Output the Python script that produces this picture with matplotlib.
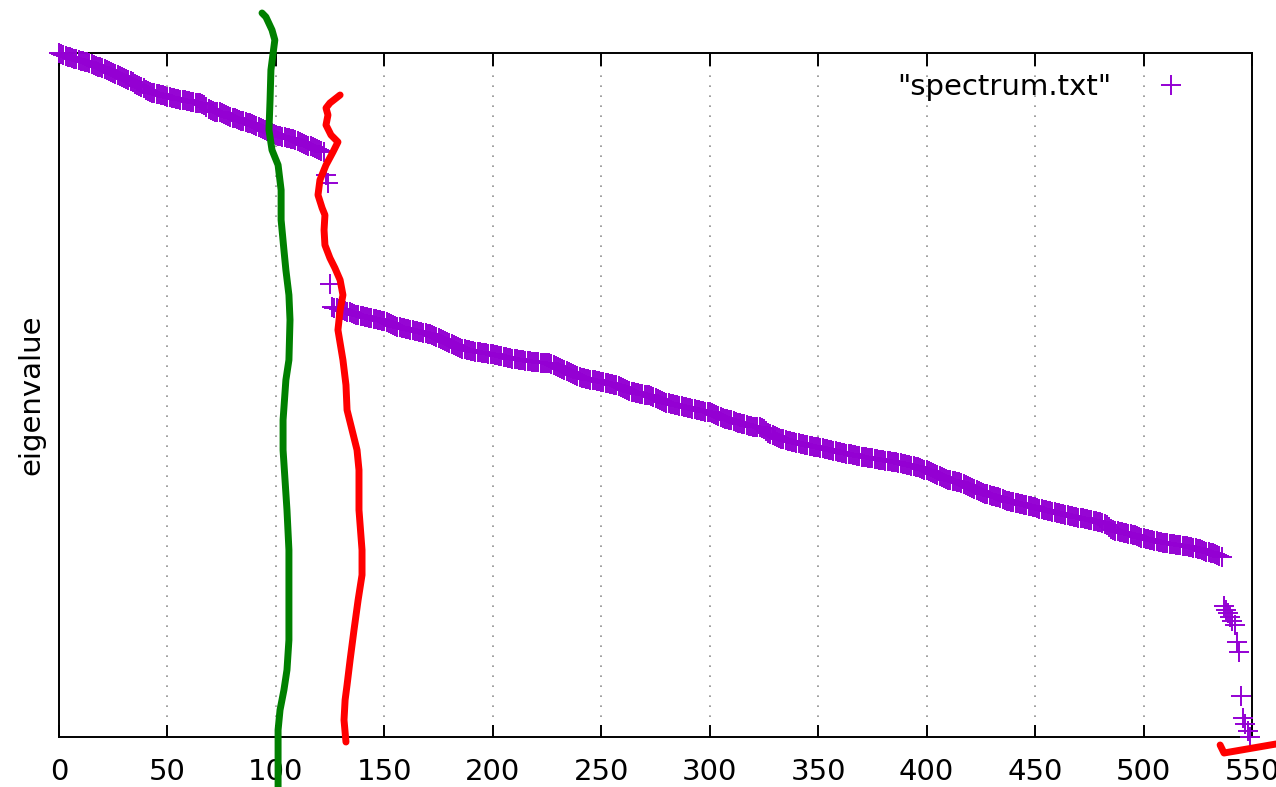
import matplotlib.pyplot as plt
import numpy as np

# eigenvalues (arbitrary units, sorted descending)
top_band = [
    684, 683, 682, 681, 680, 680, 679, 678, 678, 677,
    676, 676, 675, 675, 674, 673, 672, 671, 670, 670,
    669, 668, 667, 666, 665, 664, 663, 662, 661, 660,
    659, 658, 657, 656, 655, 653, 652, 651, 650, 649,
    647, 646, 645, 644, 644, 643, 643, 642, 642, 641,
    640, 640, 639, 639, 638, 638, 637, 637, 637, 636,
    636, 635, 635, 634, 634, 634, 633, 632, 630, 628,
    627, 626, 625, 625, 625, 624, 623, 622, 621, 620,
    619, 619, 618, 617, 616, 616, 615, 614, 614, 613,
    612, 611, 610, 609, 608, 607, 606, 605, 604, 603,
    602, 601, 601, 600, 600, 599, 599, 598, 598, 597,
    596, 595, 594, 593, 592, 591, 591, 590, 589, 588,
    587, 586, 585,
]
gap_points = [562, 554, 453]
low_band = [
    430, 429, 429, 428,
    428, 427, 426, 425, 425, 424, 423, 422, 422, 421,
    421, 420, 420, 419, 419, 418, 418, 417, 417, 416,
    416, 415, 414, 413, 412, 411, 410, 410, 409, 409,
    408, 408, 407, 407, 406, 406, 405, 405, 404, 404,
    403, 403, 402, 401, 400, 399, 398, 397, 396, 395,
    394, 393, 392, 391, 390, 389, 388, 388, 387, 387,
    386, 386, 385, 385, 385, 384, 384, 384, 383, 383,
    383, 382, 382, 381, 381, 380, 380, 379, 379, 378,
    378, 378, 377, 377, 377, 376, 376, 376, 375, 375,
    375, 375, 374, 374, 374, 374, 374, 373, 372, 371,
    370, 369, 368, 367, 366, 365, 364, 363, 362, 361,
    360, 359, 359, 358, 358, 357, 357, 357, 356, 356,
    355, 355, 354, 354, 353, 353, 352, 352, 351, 350,
    349, 348, 347, 346, 345, 345, 344, 344, 343, 343,
    342, 342, 342, 341, 340, 339, 338, 337, 336, 335,
    334, 334, 333, 333, 332, 332, 331, 331, 330, 330,
    329, 329, 328, 328, 327, 327, 326, 326, 325, 325,
    325, 324, 323, 322, 321, 320, 319, 318, 318, 317,
    317, 316, 315, 314, 314, 313, 313, 312, 311, 311,
    310, 310, 310, 310, 309, 308, 306, 304, 303, 302,
    301, 300, 299, 298, 298, 297, 296, 296, 295, 295,
    294, 294, 293, 293, 292, 292, 291, 291, 290, 290,
    290, 289, 289, 288, 288, 287, 287, 286, 286, 285,
    285, 284, 284, 283, 283, 283, 282, 282, 281, 281,
    280, 280, 280, 279, 279, 279, 278, 278, 277, 277,
    277, 276, 276, 276, 275, 275, 275, 274, 274, 273,
    273, 272, 272, 271, 271, 270, 270, 269, 268, 267,
    267, 266, 265, 264, 263, 262, 261, 260, 259, 258,
    257, 257, 256, 256, 255, 255, 254, 253, 252, 251,
    250, 249, 248, 247, 246, 245, 244, 243, 243, 242,
    241, 241, 240, 240, 239, 238, 237, 236, 236, 235,
    235, 234, 234, 233, 233, 232, 232, 231, 231, 230,
    230, 229, 228, 228, 227, 227, 226, 226, 225, 225,
    224, 224, 223, 223, 222, 222, 221, 221, 220, 220,
    219, 219, 219, 218, 218, 217, 217, 216, 216, 215,
    215, 214, 213, 212, 210, 208, 207, 206, 206, 205,
    205, 204, 204, 203, 203, 202, 202, 201, 200, 199,
    199, 198, 198, 197, 197, 196, 196, 195, 195, 194,
    194, 194, 193, 193, 193, 192, 192, 192, 191, 191,
    191, 190, 190, 189, 189, 188, 188, 187, 186, 185,
    185, 184, 184, 183, 182, 181, 180,
]
tail = [131, 127, 124, 120, 116, 112, 95, 85, 41, 19, 13, 6, 0]

eigs = np.array(top_band + gap_points + low_band + tail)
idx = np.arange(len(eigs))

xticks = [0, 50, 100, 150, 200, 250, 300, 350, 400, 450, 500, 550]

# hand drawn marks on top of the plot (data coords)
green_x = [93.6, 95.4, 98.2, 99.5, 98.6, 97.7, 97.3, 96.8, 98.2, 101, 102.4, 102.4, 103.7, 104.6,
           106, 106.5, 106, 104.6, 103.3, 103.3, 104.2, 105.1, 106, 106, 106, 105.1, 103.7,
           101.9, 101, 101]
green_y = [724, 720, 707, 697, 682, 667, 637, 607, 587, 572, 547, 517, 487, 467,
           442, 417, 377, 357, 317, 287, 257, 227, 187, 137, 97, 67, 47,
           27, 7, -50]
red_x = [129.6, 124.9, 123.1, 124.0, 123.1, 125.4, 128.6, 126.3, 123.1, 120.3, 119.4, 121.3,
         122.6, 122.2, 122.6, 124.9, 127.2, 129.6, 130.9, 129.6, 128.6, 130.9, 132.3, 132.8,
         135.1, 137.4, 138.3, 138.3, 139.7, 139.7, 137.9, 136.0, 134.2, 132.8, 131.9, 131.4, 132.3]
red_y = [642, 634, 629, 622, 612, 602, 595, 585, 572, 557, 542, 529,
         522, 507, 492, 479, 469, 457, 442, 427, 407, 377, 352, 327,
         307, 287, 267, 227, 187, 162, 137, 107, 77, 52, 37, 17, -5]
red2_x = [535.3, 537.1, 561.1]
red2_y = [-8, -16, -7]

fig = plt.figure(figsize=(12.76, 7.87), dpi=100)
ax = fig.add_axes([59 / 1276, 1 - 737 / 787, (1252 - 59) / 1276, (737 - 53) / 787])

ax.plot(idx, eigs, linestyle='none', marker='+', markersize=15, markeredgewidth=1.4,
        color='#9400d3', label='"spectrum.txt"', clip_on=False, zorder=3)

ax.plot(green_x, green_y, color='#008000', linewidth=5, solid_capstyle='round',
        solid_joinstyle='round', clip_on=False, zorder=4)
ax.plot(red_x, red_y, color='#ff0000', linewidth=5, solid_capstyle='round',
        solid_joinstyle='round', clip_on=False, zorder=4)
ax.plot(red2_x, red2_y, color='#ff0000', linewidth=5, solid_capstyle='round',
        solid_joinstyle='round', clip_on=False, zorder=4)

ax.set_xlim(0, 550)
ax.set_ylim(eigs.min(), eigs.max())
ax.set_xticks(xticks)
ax.set_yticks([])
ax.tick_params(axis='x', direction='in', length=9, width=1.4, top=True,
               labelsize=21, pad=15)
ax.grid(axis='x', color='#909090', linestyle=(0, (1, 5)), linewidth=1.2)
for s in ax.spines.values():
    s.set_linewidth(1.4)
ax.set_ylabel('eigenvalue', fontsize=21, labelpad=10)

ax.legend(loc='upper right', bbox_to_anchor=(0.98, 1.0), markerfirst=False, frameon=False,
          fontsize=21, handlelength=2.5, borderaxespad=0.3)

fig.savefig('out.png', dpi=100)
